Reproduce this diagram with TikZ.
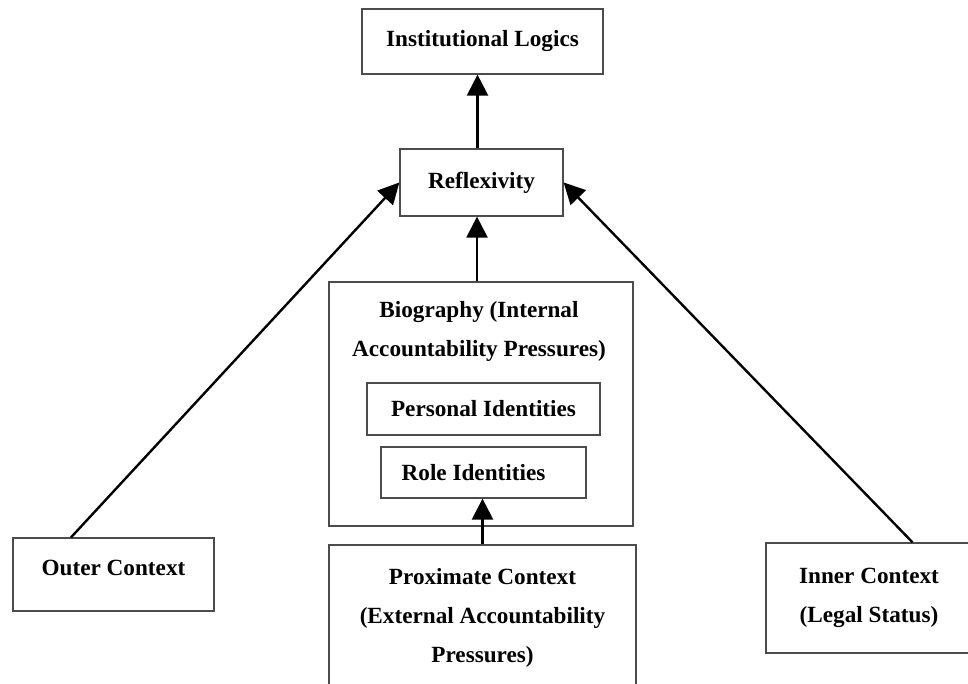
\documentclass[tikz,border=0pt]{standalone}
\usepackage{fontspec}
\setmainfont{Liberation Serif}
\usetikzlibrary{calc, arrows.meta}

\begin{document}
\begin{tikzpicture}[>={Triangle[length=15pt, width=15pt]},
    boxnode/.style={draw=black!70, line width=0.9pt, align=center, inner sep=2pt,
        font=\bfseries\fontsize{16.5}{27.7}\selectfont},
    linkarrow/.style={->, line width=1.7pt}]
    \clip (0,0) rectangle (24.2,17.1);

    % Các khung
    \node[boxnode, minimum width=6.025cm, minimum height=1.625cm] (logics) at (12.0625,16.0625) {Institutional Logics};
    \node[boxnode, minimum width=4.075cm, minimum height=1.675cm] (reflex) at (12.0375,12.5375) {Reflexivity};
    \node[boxnode, minimum width=7.6cm, minimum height=6.1cm] (bio) at (12.025,7.0) {};
    \node[boxnode, draw=none] (biotitle) at (11.975,8.8125) {Biography (Internal\\Accountability Pressures)};
    \node[boxnode, minimum width=5.825cm, minimum height=1.3cm] (personal) at (12.0875,6.875) {Personal Identities};
    \node[boxnode, minimum width=5.125cm, minimum height=1.275cm] (role) at (12.0875,5.2875) {Role Identities\hspace{0.5cm}};
    \node[boxnode, minimum width=7.675cm, minimum height=3.625cm] (proximate) at (12.0625,1.6625) {Proximate Context\\(External Accountability\\Pressures)};
    \node[boxnode, minimum width=5.025cm, minimum height=1.825cm, text depth=0.33cm] (outer) at (2.8375,2.7375) {Outer Context};
    \node[boxnode, minimum width=5.15cm, minimum height=2.75cm] (inner) at (21.725,2.15) {Inner Context\\(Legal Status)};

    % Các mũi tên
    \draw[linkarrow] ([xshift=-0.1cm]reflex.north) -- ([xshift=-0.1cm]reflex.north |- logics.south);
    \draw[linkarrow] ([xshift=-0.1cm]bio.north) -- ([xshift=-0.1cm]bio.north |- reflex.south);
    \draw[linkarrow] (proximate.north) -- (proximate.north |- role.south);
    \draw[linkarrow] ($(outer.north west)!0.29!(outer.north east)$) -- (reflex.west);
    \draw[linkarrow] ($(inner.north west)!0.71!(inner.north east)$) -- (reflex.east);
\end{tikzpicture}
\end{document}
